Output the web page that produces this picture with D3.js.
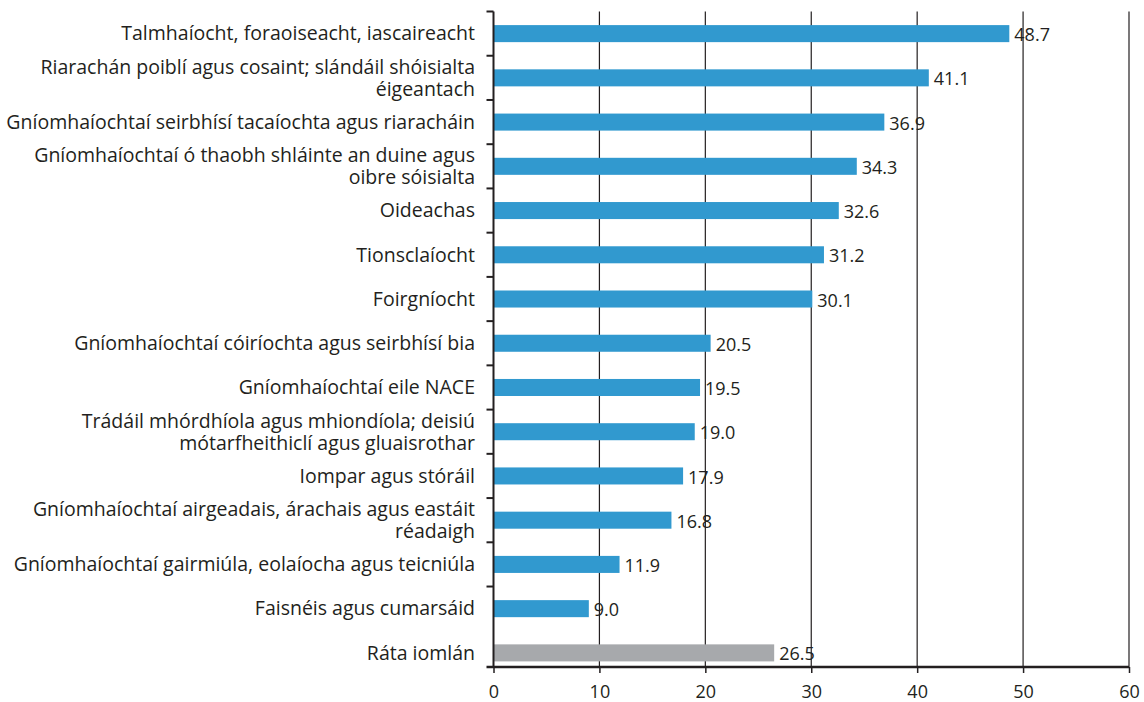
<!DOCTYPE html>
<html>
<head>
<meta charset="utf-8">
<script src="https://cdn.jsdelivr.net/npm/d3@7"></script>
<style>
  body { margin: 0; background: #fff; }
  svg text { font-family: "Open Sans", "Noto Sans", sans-serif; fill: #231f20; }
</style>
</head>
<body>
<svg id="plot" width="1144" height="702"></svg>
<script>
// categories top to bottom, "\n" marks a line break in the label
const categories = [
  'Talmhaíocht, foraoiseacht, iascaireacht',
  'Riarachán poiblí agus cosaint; slándáil shóisialta\néigeantach',
  'Gníomhaíochtaí seirbhísí tacaíochta agus riaracháin',
  'Gníomhaíochtaí ó thaobh shláinte an duine agus\noibre sóisialta',
  'Oideachas',
  'Tionsclaíocht',
  'Foirgníocht',
  'Gníomhaíochtaí cóiríochta agus seirbhísí bia',
  'Gníomhaíochtaí eile NACE',
  'Trádáil mhórdhíola agus mhiondíola; deisiú\nmótarfheithiclí agus gluaisrothar',
  'Iompar agus stóráil',
  'Gníomhaíochtaí airgeadais, árachais agus eastáit\nréadaigh',
  'Gníomhaíochtaí gairmiúla, eolaíocha agus teicniúla',
  'Faisnéis agus cumarsáid',
  'Ráta iomlán'
]
const values = [48.7, 41.1, 36.9, 34.3, 32.6, 31.2, 30.1, 20.5, 19.5, 19.0, 17.9, 16.8, 11.9, 9.0, 26.5]
const totalCategory = 'Ráta iomlán'
const xTicks = [0, 10, 20, 30, 40, 50, 60]

const rows = categories.map((c, i) => ({ cat: c, value: values[i] }))

const svg = d3.select('#plot')
const plotLeft = 493.5, plotRight = 1129, plotTop = 11.5, axisY = 667

const x = d3.scaleLinear().domain([0, 60]).range([plotLeft, plotRight])
const y = d3.scaleBand().domain(categories).range([plotTop, 675]).paddingInner(0.615).paddingOuter(0.3075)

// vertical gridlines
svg.append('g').selectAll('line').data(xTicks.filter(t => t > 0)).enter().append('line')
  .attr('x1', d => x(d)).attr('x2', d => x(d))
  .attr('y1', plotTop).attr('y2', axisY)
  .attr('stroke', '#231f20').attr('stroke-width', 1.2)

// bars
svg.append('g').selectAll('rect').data(rows).enter().append('rect')
  .attr('x', x(0)).attr('y', d => y(d.cat))
  .attr('width', d => x(d.value) - x(0))
  .attr('height', y.bandwidth())
  .attr('fill', d => d.cat === totalCategory ? '#a7a9ac' : '#3199cf')

// value labels
svg.append('g').selectAll('text').data(rows).enter().append('text')
  .attr('x', d => x(d.value) + 5)
  .attr('y', d => y(d.cat) + y.bandwidth() / 2)
  .attr('dy', '0.42em')
  .style('font-size', '18px')
  .text(d => d3.format('.1f')(d.value))

// category labels
const catLabels = svg.append('g').selectAll('text').data(rows).enter().append('text')
  .attr('text-anchor', 'end')
  .style('font-size', '19.5px')
  .attr('transform', d => `translate(475,${y(d.cat) + y.bandwidth() / 2})`)
catLabels.each(function (d) {
  const lines = d.cat.split('\n')
  const t = d3.select(this)
  lines.forEach((ln, i) => {
    t.append('tspan').attr('x', 0)
      .attr('y', (i - (lines.length - 1) / 2) * 22)
      .attr('dy', '0.35em')
      .text(ln)
  })
})

// left axis with ticks on band boundaries (none between the last two rows)
const gap = y.step() * y.paddingInner() / 2
const yTicks = categories.slice(0, categories.length - 1).map(c => y(c) - gap)
svg.append('g').selectAll('line').data(yTicks).enter().append('line')
  .attr('x1', plotLeft - 7).attr('x2', plotLeft)
  .attr('y1', d => d).attr('y2', d => d)
  .attr('stroke', '#231f20').attr('stroke-width', 2)
svg.append('line')
  .attr('x1', plotLeft).attr('x2', plotLeft).attr('y1', plotTop).attr('y2', axisY)
  .attr('stroke', '#231f20').attr('stroke-width', 2)

// bottom axis
const xAxis = svg.append('g').attr('transform', `translate(0,${axisY})`)
  .call(d3.axisBottom(x).tickValues(xTicks).tickSize(6).tickSizeOuter(0).tickPadding(12))
xAxis.select('.domain').attr('stroke', '#231f20').attr('stroke-width', 2.5)
  .attr('d', `M${plotLeft - 7},0H${plotRight}`)
xAxis.selectAll('.tick line').attr('stroke', '#231f20').attr('stroke-width', 1.5)
xAxis.selectAll('.tick text').style('font-size', '18px')
  .style('font-family', '"Open Sans", "Noto Sans", sans-serif').attr('fill', '#231f20')
</script>
</body>
</html>
